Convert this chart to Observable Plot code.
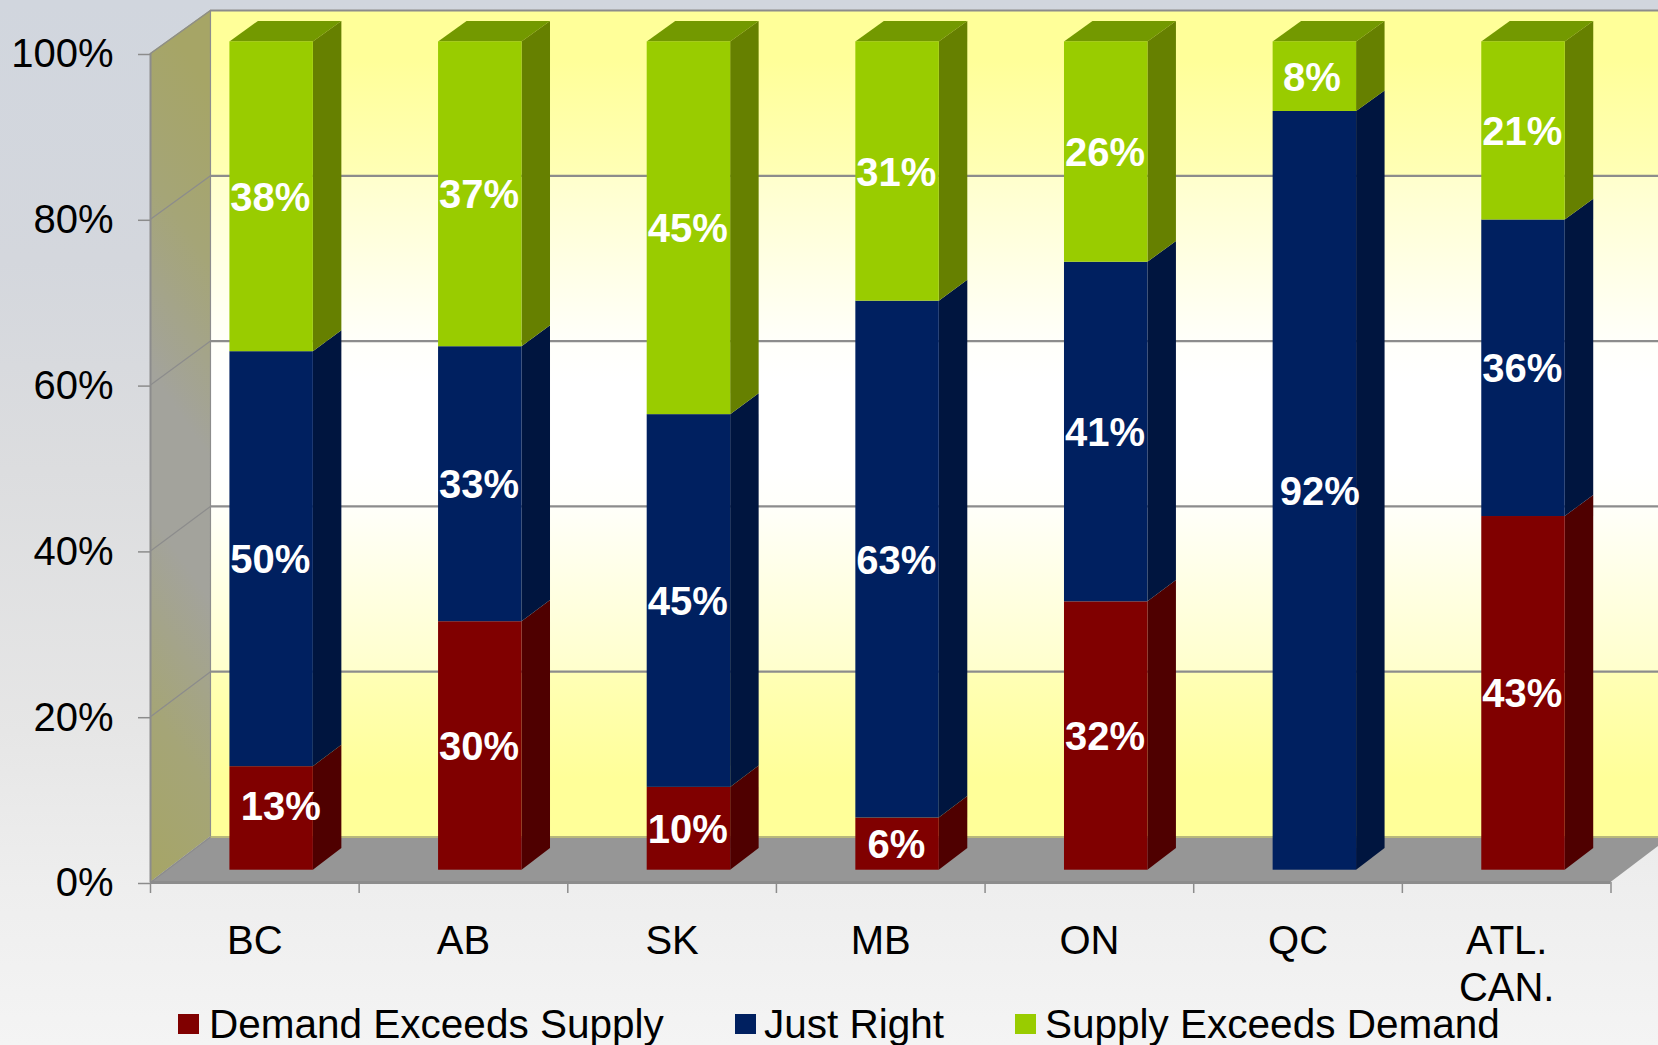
<!DOCTYPE html>
<html>
<head>
<meta charset="utf-8">
<script src="https://cdn.jsdelivr.net/npm/d3@7"></script>
<script src="https://cdn.jsdelivr.net/npm/@observablehq/plot@0.6"></script>
<style>
  html, body { margin: 0; padding: 0; width: 1658px; height: 1045px; overflow: hidden; }
  body { background: linear-gradient(180deg, #d1d6de 0%, #d4d7dd 25%, #dcdddf 45%, #e6e6e6 70%, #eeeeee 85%, #f4f4f4 100%);
         font-family: "Liberation Sans", Arial, sans-serif; position: relative; }
  svg { display: block; }
  #legend { position: relative; height: 33px; }
  .sw { position: absolute; top: 2px; width: 21px; height: 20px; }
  .lb { position: absolute; top: -11px; font-size: 40.5px; line-height: 46px; color: #000; white-space: nowrap; }
</style>
</head>
<body>
<div id="chart"></div>
<div id="legend"></div>
<script>
const categories = ["BC", "AB", "SK", "MB", "ON", "QC", "ATL.\nCAN."];
// Printed labels (rounded)
const demandExceedsSupply = [13, 30, 10, 6, 32, 0, 43];
const justRight = [50, 33, 45, 63, 41, 92, 36];
const supplyExceedsDemand = [38, 37, 45, 31, 26, 8, 21];
// Shares (the labels above are rounded)
const demandShare = [12.5, 30.0, 10.0, 6.3, 32.4, 0, 42.7];
const justShare = [50.1, 33.2, 45.0, 62.4, 41.0, 91.6, 35.8];
const supplyShare = [37.4, 36.8, 45.0, 31.3, 26.6, 8.4, 21.5];
const seriesNames = ["Demand Exceeds Supply", "Just Right", "Supply Exceeds Demand"];
const seriesLabels = [demandExceedsSupply, justRight, supplyExceedsDemand];
const seriesShares = [demandShare, justShare, supplyShare];
const yTicks = [0, 20, 40, 60, 80, 100];

// Appearance and the 3D projection
const faceColors = ["#800000", "#002060", "#99cc00"];
const sideColors = ["#4f0000", "#00153f", "#668000"];
const topColor = "#739900";
const axisGrey = "#8c8c8c";
const depthX = 60 / 208.7;   // full chart depth, in slots
const depthV = 45.5 / 8.29;  // full chart depth, in percent
const shrink = 0.003;        // slight perspective towards the back
const zFront = 0.27, zBack = 0.745;
const barStart = 0.303, barWidth = 0.400;
const labelNudgeX = -0.006, labelNudgeV = -0.15;
const px = (s, z) => s + z * depthX;
const pv = (v, z) => v * (1 - shrink * z) + z * depthV;
// hand-moved data labels in the reference: slot and percent shifts
const labelShift = {"BC|0": [0.05, 1.45], "QC|1": [0.03, 0], "QC|2": [-0.008, 0]};

const segments = [];
categories.forEach((c, i) => {
  let base = 0;
  seriesShares.forEach((s, k) => {
    segments.push({c, i, k, value: seriesLabels[k][i], v0: base, v1: base + s[i]});
    base += s[i];
  });
});
const shown = segments.filter(d => d.value > 0);

// Side-face parallelograms: two rows per segment
const sideRows = shown.flatMap(d => {
  const s = d.i + barStart + barWidth;
  return [
    {id: d.i + "-" + d.k, k: d.k, x: px(s, zFront), y1: pv(d.v0, zFront), y2: pv(d.v1, zFront)},
    {id: d.i + "-" + d.k, k: d.k, x: px(s, zBack), y1: pv(d.v0, zBack), y2: pv(d.v1, zBack)}
  ];
});
// Top-face parallelograms
const topRows = categories.flatMap((c, i) => [zFront, zBack].map(z => ({
  i,
  y: pv(100, z),
  x1: px(i + barStart, z),
  x2: px(i + barStart + barWidth, z)
})));

const labelRows = shown.map(d => {
  const sh = labelShift[d.c + "|" + d.k] || [0, 0];
  return {
    text: d.value + "%",
    x: px(d.i + barStart + barWidth / 2, zFront) + labelNudgeX + sh[0],
    y: pv((d.v0 + d.v1) / 2, zFront) + labelNudgeV + sh[1]
  };
});

function defs() {
  const root = d3.create("svg:defs");
  const wall = root.append("linearGradient").attr("id", "wallFill").attr("x1", 0).attr("x2", 0).attr("y1", 0).attr("y2", 1);
  [[0, "#ffff99"], [0.06, "#ffff99"], [0.2, "#ffffb6"], [0.2, "#ffffcc"], [0.4, "#fffffa"], [0.45, "#ffffff"],
   [0.55, "#ffffff"], [0.6, "#fffffa"], [0.8, "#ffffcc"], [0.8, "#ffffb6"], [0.93, "#ffff99"], [1, "#ffff99"]]
    .forEach(([o, c]) => wall.append("stop").attr("offset", o).attr("stop-color", c));
  const side = root.append("linearGradient").attr("id", "sideFill").attr("x1", 0.1).attr("x2", 0).attr("y1", 0).attr("y2", 1);
  [[0, "#a6a566"], [0.2, "#a5a577"], [0.42, "#a3a39c"], [0.58, "#a3a39c"], [0.8, "#a5a577"], [1, "#a6a566"]]
    .forEach(([o, c]) => side.append("stop").attr("offset", o).attr("stop-color", c));
  return root.node();
}

const plot = Plot.plot({
  width: 1658,
  height: 1012,
  marginLeft: 150,
  marginRight: 47.5,
  marginTop: 53,
  marginBottom: 130,
  style: {background: "transparent", fontFamily: "'Liberation Sans', Arial, sans-serif", fontSize: "40px", color: "#000"},
  x: {domain: [0, categories.length]},
  y: {domain: [0, 100]},
  marks: [
    defs,
    // back wall
    Plot.rect([0], {x1: depthX, x2: categories.length + 1, y1: pv(0, 1), y2: pv(100, 1), fill: "url(#wallFill)"}),
    // left wall
    Plot.areaY([0, 1], {x: z => px(0, z), y1: z => pv(0, z), y2: z => pv(100, z), fill: "url(#sideFill)"}),
    // floor
    Plot.areaX([0, 1], {y: z => pv(0, z), x1: z => px(0, z), x2: z => px(categories.length, z), fill: "#969696"}),
    // gridlines on the back wall and left wall
    Plot.ruleY(yTicks.filter(t => t > 0), {y: t => pv(t, 1), x1: depthX, x2: categories.length + 1, stroke: axisGrey, strokeWidth: 2.2}),
    Plot.ruleY([0], {y: t => pv(t, 1), x1: depthX, x2: categories.length + 1, stroke: "#b8b87c", strokeWidth: 2}),
    Plot.link(yTicks, {x1: 0, x2: depthX, y1: t => t, y2: t => pv(t, 1), stroke: axisGrey, strokeWidth: 1.2}),
    Plot.ruleX([depthX], {y1: pv(0, 1), y2: pv(100, 1), stroke: axisGrey, strokeWidth: 1.2}),
    Plot.ruleX([0], {y1: 0, y2: 100, stroke: axisGrey, strokeWidth: 2}),
    Plot.ruleY([0], {x1: 0, x2: categories.length, stroke: axisGrey, strokeWidth: 3}),
    // bars
    Plot.areaX(topRows, {y: "y", x1: "x1", x2: "x2", z: "i", fill: topColor}),
    Plot.areaY(sideRows, {x: "x", y1: "y1", y2: "y2", z: "id", fill: d => sideColors[d.k]}),
    Plot.rect(shown, {
      x1: d => px(d.i + barStart, zFront),
      x2: d => px(d.i + barStart + barWidth, zFront),
      y1: d => pv(d.v0, zFront),
      y2: d => pv(d.v1, zFront),
      fill: d => faceColors[d.k]
    }),
    Plot.text(labelRows, {x: "x", y: "y", text: "text", fill: "#fff", fontWeight: "bold", fontSize: 40}),
    // axes
    Plot.axisY({ticks: yTicks, tickFormat: d => d + "%", tickSize: 12, tickPadding: 25, stroke: axisGrey, color: "#000", fontSize: 40, label: null, strokeWidth: 1.5, dy: 1}),
    Plot.axisX({ticks: d3.range(categories.length + 1), tickFormat: () => "", tickSize: 11, stroke: axisGrey, label: null, strokeWidth: 1.5}),
    Plot.axisX({
      ticks: categories.map((c, i) => i + 0.5),
      tickFormat: d => categories[d - 0.5],
      tickSize: 0,
      tickPadding: 38,
      fontSize: 40,
      lineHeight: 1.175,
      label: null
    })
  ],
  color: {type: "identity"}
});
document.getElementById("chart").append(plot);

// Legend below the SVG
const swatchLeft = [178, 735, 1015];
const textLeft = [209, 764, 1045];
const legend = d3.select("#legend");
seriesNames.forEach((n, k) => {
  legend.append("div").attr("class", "sw").style("left", swatchLeft[k] + "px").style("background", faceColors[k]);
  legend.append("div").attr("class", "lb").style("left", textLeft[k] + "px").text(n);
});
</script>
</body>
</html>
